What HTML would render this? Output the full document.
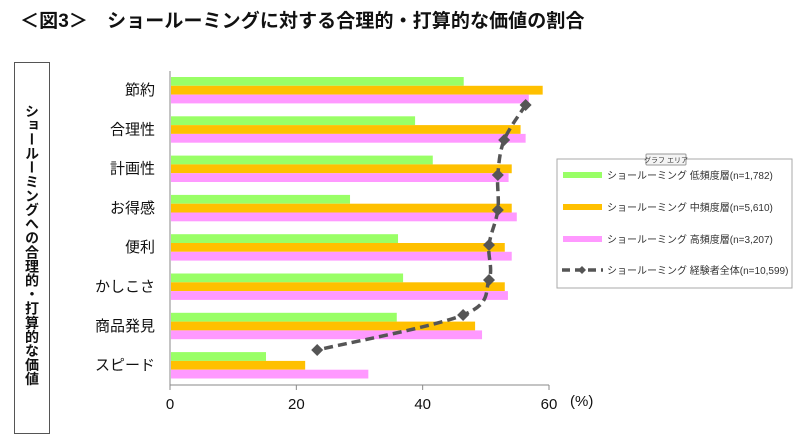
<!DOCTYPE html>
<html><head><meta charset="utf-8">
<style>
body{margin:0;background:#fff;width:805px;height:445px;overflow:hidden;font-family:"Liberation Sans","Noto Sans CJK JP",sans-serif;}
#title{position:absolute;left:20px;top:6px;font-size:19px;font-weight:bold;color:#111;white-space:nowrap;letter-spacing:0.1px}
#ybox{position:absolute;left:14px;top:62px;width:36px;height:372px;border:1px solid #555;box-sizing:border-box}
#ytitle{position:absolute;left:24px;top:104px;writing-mode:vertical-rl;font-size:14px;font-weight:bold;line-height:16px;color:#111;letter-spacing:0.1px}
svg{position:absolute;left:0;top:0}
</style></head><body>
<div id="title">＜図3＞　ショールーミングに対する合理的・打算的な価値の割合</div>
<div id="ybox"></div>
<div id="ytitle">ショールーミングへの合理的・打算的な価値</div>
<svg id="chart" width="805" height="445"></svg>
<script>
const categories=["節約","合理性","計画性","お得感","便利","かしこさ","商品発見","スピード"];
const lowFreq=[46.5,38.8,41.6,28.5,36.1,36.9,35.9,15.2];
const midFreq=[59.0,55.5,54.1,54.1,53.0,53.0,48.3,21.4];
const highFreq=[56.8,56.3,53.6,54.9,54.1,53.5,49.4,31.4];
const allUsers=[56.3,52.9,51.9,51.9,50.5,50.5,46.4,23.3];
const xTicks=[0,20,40,60];
const seriesNames=["ショールーミング 低頻度層(n=1,782)","ショールーミング 中頻度層(n=5,610)","ショールーミング 高頻度層(n=3,207)","ショールーミング 経験者全体(n=10,599)"];

const NS="http://www.w3.org/2000/svg";
const svg=document.getElementById('chart');
const x0=170,x1=549,xmax=60;
const xs=v=>x0+v/xmax*(x1-x0);
const rowTop=i=>77+i*39.3;
const lineY=i=>105+i*35;
function mk(t,a,p){const e=document.createElementNS(NS,t);for(const k in a)e.setAttribute(k,a[k]);(p||svg).appendChild(e);return e;}

let ax=mk('line',{x1:x0,y1:71,x2:x0,y2:385,stroke:'#888','stroke-width':1});


let bx=mk('line',{x1:x0,y1:385,x2:x1,y2:385,stroke:'#888','stroke-width':1});


xTicks.forEach(t=>{
  const tk=mk('line',{x1:xs(t),y1:385,x2:xs(t),y2:390,stroke:'#888'});
  
  
  const tl=mk('text',{x:xs(t),y:409,'font-size':15,'text-anchor':'middle',fill:'#111'});
  tl.textContent=t;
  
  
});
const pct=mk('text',{x:570,y:406,'font-size':15,fill:'#111'});
pct.textContent='(%)';



const colors=['#99ff66','#ffc000','#ff99ff'];
const series=[lowFreq,midFreq,highFreq];
categories.forEach((c,i)=>{
  const lab=mk('text',{x:155,y:rowTop(i)+18,'font-size':15,'text-anchor':'end',fill:'#111'});
  lab.textContent=c;
  
  
  series.forEach((s,j)=>{
    const r=mk('rect',{x:x0+1,y:rowTop(i)+j*8.8,width:xs(s[i])-x0-1,height:8.8,fill:colors[j]});
    
    
  });
});
// smoothed line (Catmull-Rom)
const P=allUsers.map((v,i)=>[xs(v),lineY(i)]);
let d='M'+P[0][0]+','+P[0][1];
for(let i=0;i<P.length-1;i++){
  const p0=P[Math.max(i-1,0)],p1=P[i],p2=P[i+1],p3=P[Math.min(i+2,P.length-1)];
  const c1=[p1[0]+(p2[0]-p0[0])/6,p1[1]+(p2[1]-p0[1])/6];
  const c2=[p2[0]-(p3[0]-p1[0])/6,p2[1]-(p3[1]-p1[1])/6];
  d+=` C${c1[0]},${c1[1]} ${c2[0]},${c2[1]} ${p2[0]},${p2[1]}`;
}
const pl=mk('path',{d:d,fill:'none',stroke:'#555','stroke-width':3.5,'stroke-dasharray':'9,5'});


allUsers.forEach((v,i)=>{
  const cx=xs(v),cy=lineY(i);
  const dm=mk('polygon',{points:`${cx},${cy-6} ${cx+6},${cy} ${cx},${cy+6} ${cx-6},${cy}`,fill:'#555'});
  
  
});
// legend
const lg=mk('rect',{x:557,y:159,width:235,height:129,fill:'#fff',stroke:'#aaa'});


const tagR=mk('rect',{x:646,y:154,width:40,height:11,fill:'#f4f4f4',stroke:'#999',rx:1});


const tag=mk('text',{x:666,y:162.5,'font-size':7,'text-anchor':'middle',fill:'#333'});
tag.textContent='グラフ エリア';


const ly=[175,207,239,270];
seriesNames.forEach((n,k)=>{
  if(k<3){
    const sw=mk('rect',{x:563,y:ly[k]-3,width:39,height:6,fill:colors[k]});
    
    
  } else {
    const sl=mk('line',{x1:562,y1:ly[k],x2:603,y2:ly[k],stroke:'#555','stroke-width':3.5,'stroke-dasharray':'8,5'});
    
    
    const sd=mk('polygon',{points:`582,${ly[k]-4} 586,${ly[k]} 582,${ly[k]+4} 578,${ly[k]}`,fill:'#555'});
    
    
  }
  const t=mk('text',{x:607,y:ly[k]+4,'font-size':10,fill:'#333'});
  t.textContent=n;
  
  
});
</script>
</body></html>
